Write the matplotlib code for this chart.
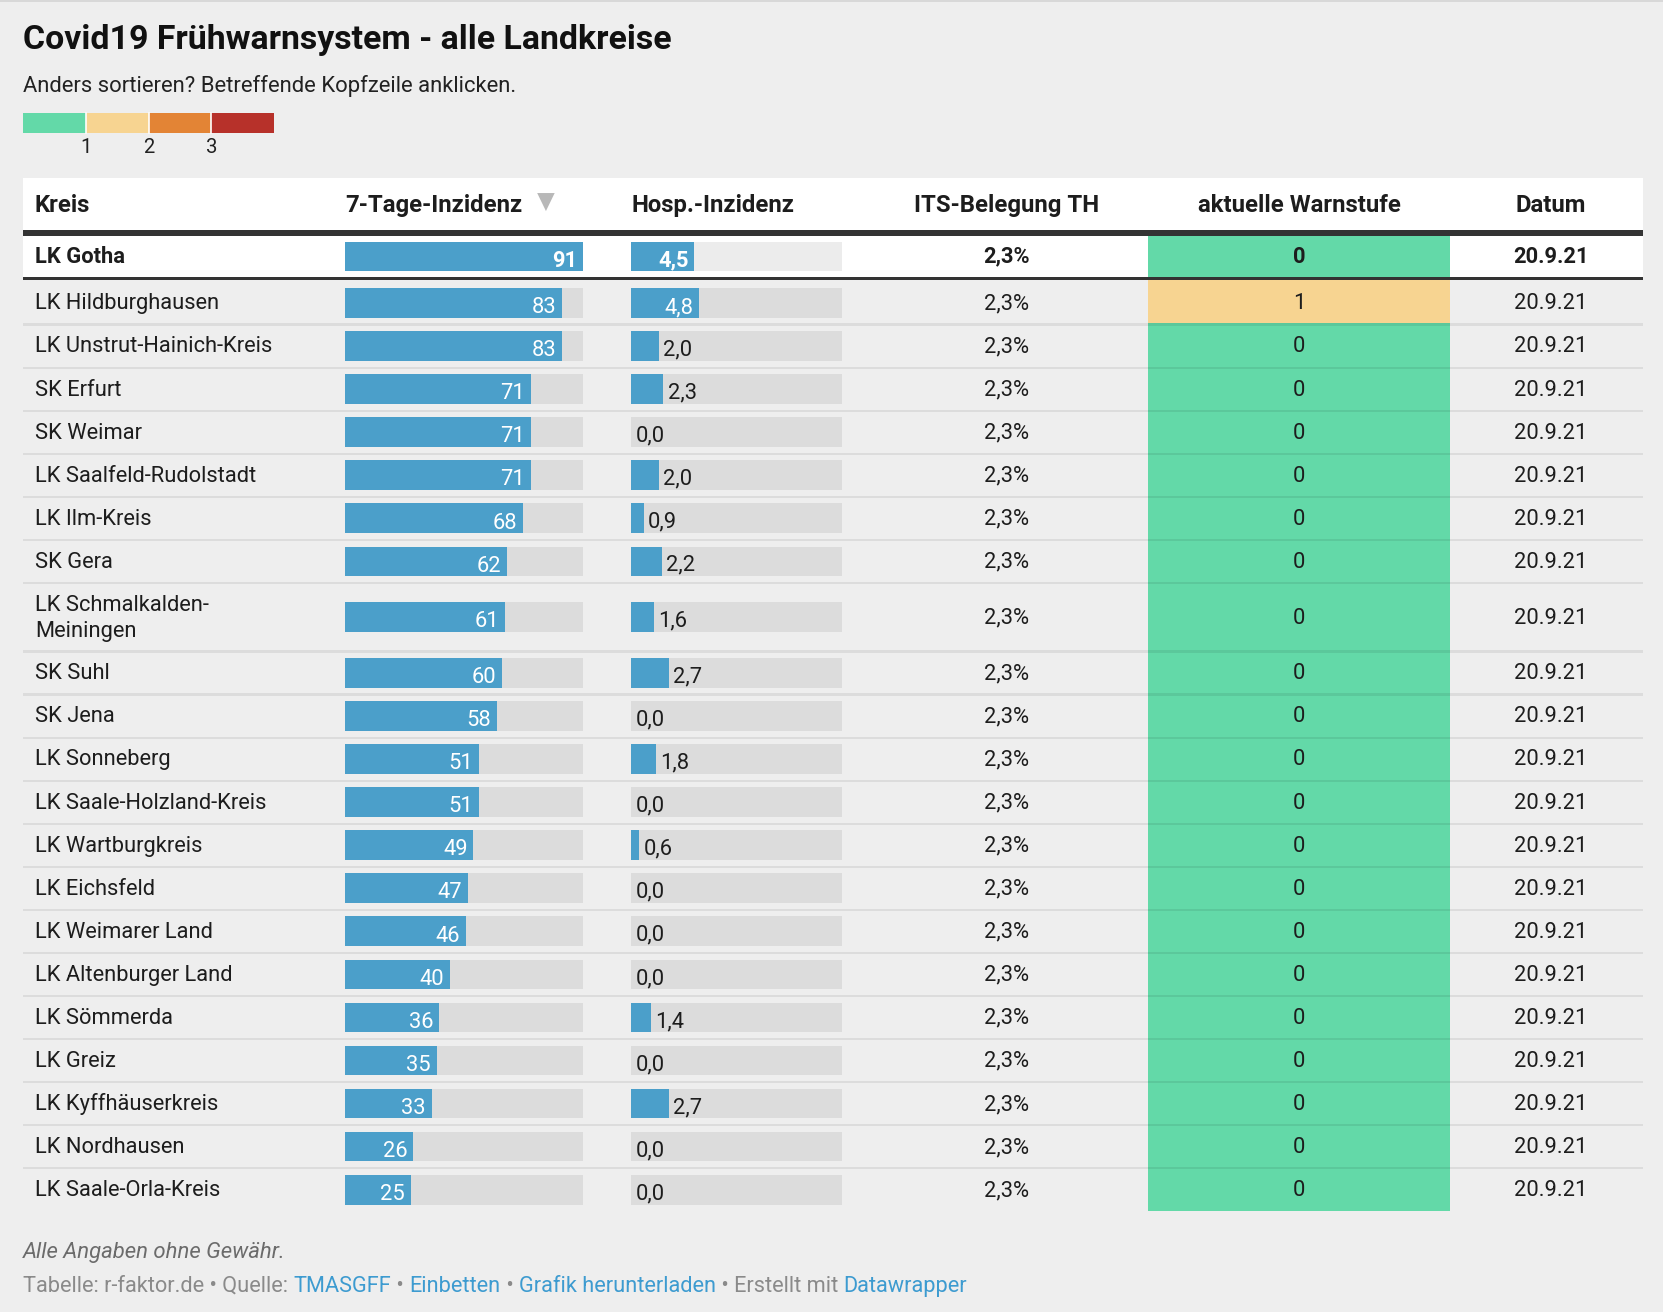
import matplotlib.pyplot as plt
from matplotlib.patches import Rectangle

plt.rcParams['font.family'] = ['Roboto', 'DejaVu Sans']

# data
kreise = ["LK Gotha", "LK Hildburghausen", "LK Unstrut-Hainich-Kreis", "SK Erfurt", "SK Weimar",
          "LK Saalfeld-Rudolstadt", "LK Ilm-Kreis", "SK Gera", "LK Schmalkalden-\nMeiningen", "SK Suhl",
          "SK Jena", "LK Sonneberg", "LK Saale-Holzland-Kreis", "LK Wartburgkreis", "LK Eichsfeld",
          "LK Weimarer Land", "LK Altenburger Land", "LK Sömmerda", "LK Greiz", "LK Kyffhäuserkreis",
          "LK Nordhausen", "LK Saale-Orla-Kreis"]
inzidenz = [91, 83, 83, 71, 71, 71, 68, 62, 61, 60, 58, 51, 51, 49, 47, 46, 40, 36, 35, 33, 26, 25]
hosp = [4.5, 4.8, 2.0, 2.3, 0.0, 2.0, 0.9, 2.2, 1.6, 2.7, 0.0, 1.8, 0.0, 0.6, 0.0, 0.0, 0.0, 1.4, 0.0, 2.7, 0.0, 0.0]
its = [2.3] * 22
warnstufe = [0, 1, 0, 0, 0, 0, 0, 0, 0, 0, 0, 0, 0, 0, 0, 0, 0, 0, 0, 0, 0, 0]
datum = ["20.9.21"] * 22
headers = ["Kreis", "7-Tage-Inzidenz", "Hosp.-Inzidenz", "ITS-Belegung TH", "aktuelle Warnstufe", "Datum"]
stufen_farben = ["#63d9a8", "#f7d491", "#e38435", "#b7312a"]
stufen_labels = ["1", "2", "3"]

W, H = 1568, 1237
BG = "#eeeeee"
BLUE = "#4b9fca"
DARK = "#1d1d1d"
FS = 15.75

fig = plt.figure(figsize=(16.63, 13.12), dpi=100, facecolor=BG)
ax = fig.add_axes([0, 0, 1, 1])
ax.set_xlim(0, W)
ax.set_ylim(H, 0)
ax.axis("off")
ax.add_patch(Rectangle((0, 0), W, 2, color="#d8d8d8", lw=0))


def de(v, nd=1):
    return f"{v:.{nd}f}".replace(".", ",")


# title + description
ax.text(22, 46, "Covid19 Frühwarnsystem - alle Landkreise", fontsize=24.4, fontweight="bold",
        color="#111111", va="baseline")
ax.text(22, 86.5, "Anders sortieren? Betreffende Kopfzeile anklicken.", fontsize=15.8,
        color="#222222", va="baseline")

# colour legend
seg = 59.1
for i, c in enumerate(stufen_farben):
    ax.add_patch(Rectangle((22 + i * seg, 107), seg, 18, color=c, lw=0))
    if i > 0:
        ax.plot([22 + i * seg] * 2, [107, 125], color="white", lw=1.2)
for i, lab in enumerate(stufen_labels):
    ax.text(22 + (i + 1) * seg, 144, lab, fontsize=14.6, ha="center", va="baseline", color="#222222")

# table geometry
x_left, x_right = 22, 1549
x_kreis = 33
inz_x0, inz_w = 325.5, 224.5
hosp_x0, hosp_w = 595, 199
hosp_max = 15
x_its, x_warn, x_dat = 949.5, 1224.8, 1462.5
warn_x0, warn_x1 = 1082.6, 1367
bar_h = 28

# header
ax.add_patch(Rectangle((x_left, 168), x_right - x_left, 49, color="white", lw=0))
hy = 199.5
hdr_kw = dict(fontsize=17.2, fontweight="bold", color=DARK, va="baseline")
ax.text(x_kreis, hy, headers[0], ha="left", **hdr_kw)
ax.text(inz_x0, hy, headers[1], ha="left", **hdr_kw)
ax.fill([506.5, 523, 514.75], [182, 182, 199], color="#b8b8b8", lw=0)
ax.text(hosp_x0, hy, headers[2], ha="left", **hdr_kw)
ax.text(x_its, hy, headers[3], ha="center", **hdr_kw)
ax.text(x_warn, hy, headers[4], ha="center", **hdr_kw)
ax.text(x_dat, hy, headers[5], ha="center", **hdr_kw)
ax.add_patch(Rectangle((x_left, 216.9), x_right - x_left, 5.6, color="#333333", lw=0))

# row layout
tops, heights = [], []
y = 222.5
for i, k in enumerate(kreise):
    if i == 0:
        h = 38.5
    else:
        h = 64.6 if "\n" in k else 40.6
    tops.append(y)
    heights.append(h)
    y += h
    if i == 0:
        y = 265.4

ax.add_patch(Rectangle((x_left, tops[0]), x_right - x_left, heights[0], color="white", lw=0))

for i, k in enumerate(kreise):
    top, h = tops[i], heights[i]
    cy = top + h / 2
    fw = "bold" if i == 0 else "normal"
    # warnstufe cell
    ax.add_patch(Rectangle((warn_x0, top if i == 0 else top - 1.2), warn_x1 - warn_x0,
                           h if i == 0 else h + 1.2, color=stufen_farben[warnstufe[i]], lw=0, zorder=1))
    # text columns
    if "\n" in k:
        ax.text(x_kreis, cy + 1, k, fontsize=FS, fontweight=fw, color=DARK, va="center", ha="left",
                linespacing=1.32)
    else:
        ax.text(x_kreis, cy + 6, k, fontsize=FS, fontweight=fw, color=DARK, va="baseline", ha="left")
    ax.text(x_its, cy + 6, de(its[i]) + "%", fontsize=FS, fontweight=fw, color=DARK, va="baseline", ha="center")
    ax.text(x_warn, cy + 6, str(warnstufe[i]), fontsize=FS, fontweight=fw, color=DARK, va="baseline",
            ha="center", zorder=3)
    ax.text(x_dat, cy + 6, datum[i], fontsize=FS, fontweight=fw, color=DARK, va="baseline", ha="center")

    b0 = cy - bar_h / 2
    b1 = cy + bar_h / 2
    # 7-Tage-Inzidenz bars
    ax.add_patch(Rectangle((inz_x0, b0), inz_w, bar_h, color="black", alpha=0.075, lw=0))
    wv = inzidenz[i] / max(inzidenz) * inz_w
    ax.add_patch(Rectangle((inz_x0, b0), wv, bar_h, color=BLUE, lw=0))
    ax.text(inz_x0 + wv - 5.5, b1 - 4.4, str(inzidenz[i]), fontsize=FS, fontweight=fw, color="white",
            ha="right", va="baseline")
    # Hosp.-Inzidenz bars
    ax.add_patch(Rectangle((hosp_x0, b0), hosp_w, bar_h, color="black", alpha=0.075, lw=0))
    hv = hosp[i] / hosp_max * hosp_w
    ax.add_patch(Rectangle((hosp_x0, b0), hv, bar_h, color=BLUE, lw=0))
    if hv > 45:
        ax.text(hosp_x0 + hv - 5, b1 - 4.4, de(hosp[i]), fontsize=FS, fontweight=fw, color="white",
                ha="right", va="baseline")
    else:
        ax.text(hosp_x0 + hv + 4, b1 - 5, de(hosp[i]), fontsize=FS, fontweight=fw, color=DARK,
                ha="left", va="baseline")

    # separators
    if i == 0:
        ax.add_patch(Rectangle((x_left, top + h), x_right - x_left, 3, color="#333333", lw=0, zorder=2))
    elif i < len(kreise) - 1:
        ax.add_patch(Rectangle((x_left, top + h - 1), x_right - x_left, 2.2, color="black", alpha=0.075,
                               lw=0, zorder=2))

# footer
ax.text(22, 1186.5, "Alle Angaben ohne Gewähr.", fontsize=15.9, style="italic", color="#6b6b6b",
        va="baseline")
parts = [("Tabelle: r-faktor.de • Quelle: ", "#8a8a8a"), ("TMASGFF", "#3d9bd0"), (" • ", "#8a8a8a"),
         ("Einbetten", "#3d9bd0"), (" • ", "#8a8a8a"), ("Grafik herunterladen", "#3d9bd0"),
         (" • Erstellt mit ", "#8a8a8a"), ("Datawrapper", "#3d9bd0")]
prev = ax.text(22, 1218, parts[0][0], fontsize=15.7, color=parts[0][1], va="baseline")
for s, c in parts[1:]:
    prev = ax.annotate(s, xy=(1, 0), xycoords=prev, fontsize=15.7, color=c, va="bottom", ha="left")

plt.savefig("out.png", dpi=100, facecolor=BG)
